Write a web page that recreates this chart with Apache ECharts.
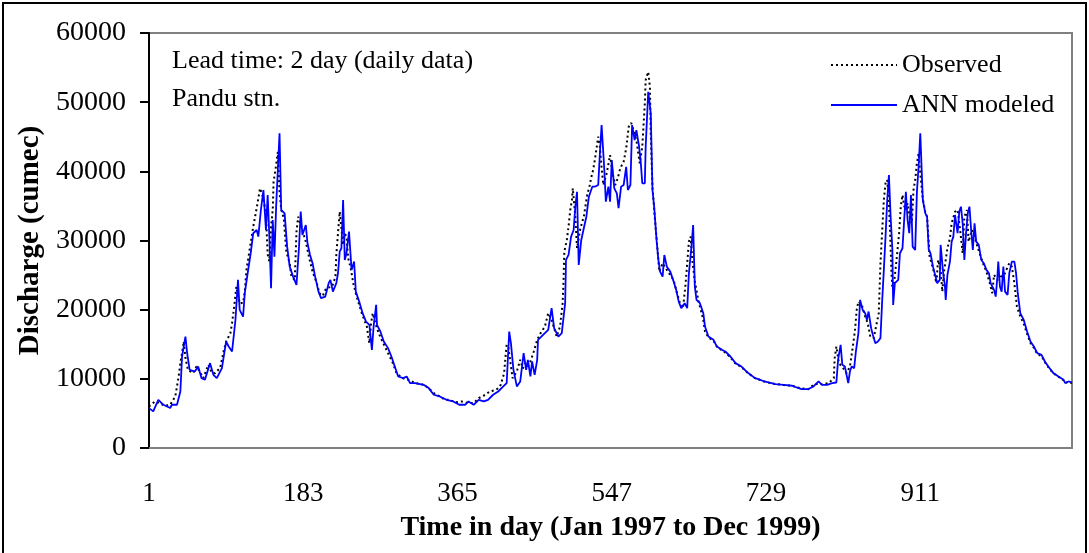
<!DOCTYPE html>
<html>
<head>
<meta charset="utf-8">
<script src="https://cdn.jsdelivr.net/npm/echarts@6/dist/echarts.min.js"></script>
<style>
  html, body { margin: 0; padding: 0; background: #fff; }
  #chart { width: 1089px; height: 553px; }
</style>
</head>
<body>
<div id="chart"></div>
<script>
// X tick labels (days)
const xTicks = [1, 183, 365, 547, 729, 911];
// Y tick labels
const yTicks = [0, 10000, 20000, 30000, 40000, 50000, 60000];

// Observed discharge (cumec): day index and value
const observedDays = [1,8,13,20,26,32,36,38,40,42,44,47,53,57,61,65,71,75,79,85,89,92,97,99,102,104,108,112,114,116,120,124,128,132,134,136,139,141,143,145,147,148,151,153,155,157,160,163,167,169,173,175,177,179,182,186,190,194,199,202,206,210,217,221,222,224,226,228,230,232,234,236,239,242,246,252,258,261,263,265,268,272,278,283,288,293,300,307,315,325,331,337,344,350,356,362,370,378,384,390,398,403,411,416,420,422,423,425,427,430,435,439,442,445,448,451,455,459,464,468,472,476,482,486,489,490,491,494,496,498,500,501,504,506,510,514,518,521,523,525,527,529,531,533,535,537,541,545,548,551,554,557,561,564,567,570,572,576,580,583,586,587,590,592,593,595,598,601,603,607,612,616,620,624,628,631,634,636,638,640,642,645,649,652,655,657,661,667,671,677,681,687,693,700,708,716,727,740,750,760,765,771,779,785,791,795,803,809,810,812,815,820,824,828,832,834,836,838,842,846,849,852,856,860,862,864,866,868,870,872,874,876,877,878,880,883,886,888,890,892,894,896,899,901,903,905,907,909,911,914,917,919,922,926,930,932,935,937,939,943,946,948,952,955,958,961,963,966,968,972,975,979,985,989,993,996,998,1002,1006,1010,1016,1019,1022,1025,1029,1033,1037,1041,1045,1049,1054,1058,1062,1068,1074,1080,1082,1086,1090];
const observedValues = [5990,6730,6500,6100,6250,7450,10340,12270,13720,15400,13000,11300,10820,11800,11000,10100,12030,10900,10820,11600,13950,15390,16600,18040,20940,23300,20900,21000,22620,25750,28880,32010,34650,37540,37540,36100,33690,28000,27000,32000,34410,38500,40900,42800,37000,34500,33200,28400,26700,24800,24300,31280,33440,33440,31500,29830,27500,25500,23830,22380,22000,23100,23330,24780,27910,31050,34170,34170,29360,31000,30560,27430,26000,23830,21890,19490,17560,15160,18050,19490,18050,16600,15000,13720,12500,10830,10100,9860,9390,9140,8660,7940,7450,7000,6970,6600,6730,6500,6500,7210,7700,8170,8420,9140,10830,13720,14920,14500,12750,10100,11060,12750,11500,12270,11800,12510,13950,15640,16840,17500,19490,18530,16110,17560,20940,23830,28390,30080,32000,34410,35860,37540,33440,28880,31770,33440,36580,38000,39220,40190,41630,43320,45000,43550,40500,38020,39710,42350,39710,38020,38990,40430,41390,43320,46450,47000,46930,44520,41150,43550,49820,53180,54380,52210,45490,37780,32970,28640,25500,26710,25750,25000,24300,22380,20690,20200,23580,26710,29830,30560,27190,24060,21410,20000,18530,16840,16000,15500,14670,14100,13800,13100,12200,11700,10800,10100,9600,9250,9100,9000,8800,8600,8500,9140,9300,9200,9390,10100,13000,14670,12270,11550,10830,11780,15160,17080,19970,21170,20690,19000,18050,16110,15880,18280,19490,26710,31280,35860,38270,38750,35380,29110,25270,23330,23830,27190,31050,34890,36580,35000,34410,35380,32970,32490,37300,38750,41150,42600,39710,36000,34000,33440,27670,26000,23830,27190,25750,22610,25500,28880,30320,32490,34170,34410,31520,28160,33440,34410,29830,31520,30560,28880,26710,25500,23830,22380,25030,24300,24780,25030,26710,26220,23830,20450,19000,18000,16500,15200,14500,13600,13300,12400,11700,10800,10300,9800,9400,9550,9400];

// ANN modeled discharge (cumec): day index and value
const modeledDays = [1,6,12,18,26,28,34,38,40,44,46,49,55,59,63,67,73,77,81,87,92,95,99,103,106,108,112,114,118,121,124,128,130,133,136,139,141,143,145,147,149,151,153,155,157,161,164,167,171,175,178,180,182,186,188,191,194,197,201,204,209,213,215,218,222,224,226,228,230,232,234,237,240,243,245,249,253,257,261,264,266,269,270,274,278,283,287,291,295,301,305,309,315,325,331,337,344,352,360,367,374,378,384,390,396,401,407,413,419,423,426,428,431,435,439,443,446,448,451,453,456,459,460,466,472,476,479,484,488,492,493,496,499,502,504,506,508,511,514,517,520,524,527,531,533,535,538,540,543,545,547,550,553,555,558,561,564,566,569,571,574,576,579,581,583,586,587,590,591,593,595,597,600,602,604,607,609,612,616,620,623,626,629,633,636,638,641,643,645,647,651,655,657,661,667,671,677,681,687,693,700,708,716,720,727,740,750,760,765,771,779,785,791,795,801,807,812,814,817,819,822,824,826,828,830,833,835,838,840,843,846,848,850,853,855,858,861,864,866,868,870,872,874,876,878,879,881,885,887,890,892,894,896,898,900,902,905,907,909,911,914,917,919,921,923,926,929,931,934,935,938,940,941,943,946,948,950,952,955,957,959,961,963,965,967,969,971,973,975,977,980,983,986,989,992,994,998,1000,1002,1003,1005,1007,1009,1011,1014,1016,1019,1022,1024,1026,1029,1033,1037,1041,1045,1049,1054,1058,1062,1068,1074,1080,1082,1086,1090];
const modeledValues = [5760,5290,6970,6250,5780,6250,6250,8170,13230,16110,13720,11300,11060,11780,10100,9860,12270,10580,10100,11550,15390,14670,13950,18530,24300,19970,19000,22380,25750,28160,31050,31520,30560,34410,37300,31520,36580,30560,23100,32970,27670,34890,40190,45490,34410,33930,29110,26220,24780,23580,29110,34170,30800,32240,29600,27910,26710,24780,22610,21660,21890,23830,24300,22610,23830,25270,28390,28880,35860,27190,28160,31280,25750,26950,22610,21170,19490,18280,17800,14190,17560,20690,17800,16840,15390,14440,13230,11780,10340,10100,10340,9390,9390,9140,8660,7700,7450,6970,6730,6250,6250,6730,6250,6970,6730,6970,7700,8170,8900,9390,16840,15160,11300,8900,9620,13720,11300,12750,10340,12510,10580,12750,15640,16360,17080,20220,17330,16110,16600,20940,27190,27910,30560,31520,34890,37050,26470,30080,31770,33440,36330,37780,37780,38020,42600,46690,40660,35610,37780,35610,41630,37540,36820,34660,37780,38020,40660,37300,38020,46690,44520,45960,43800,41630,38270,38270,43550,51490,50540,48370,37300,34890,29830,27190,25500,24780,27910,26220,25500,24060,22860,21170,20220,20940,20220,25270,29110,32240,23330,21410,20940,19490,17560,16110,15640,14670,14190,13950,13230,12270,11780,10830,10100,9960,9620,9240,9140,9000,8750,8520,8520,8900,9620,9140,9140,9390,9470,12750,14920,12030,11780,10580,9390,11060,11780,11550,13950,16600,21410,19970,19490,18530,19730,17330,16360,15160,15390,15880,21170,25750,30560,35860,39460,33440,28880,20690,23830,24300,28160,28880,32970,37050,32970,31050,36580,29110,28640,37000,40660,45490,35860,33930,33440,28640,28160,26220,24780,23830,24300,29360,25270,23580,21410,25030,26950,29830,30560,33690,31050,34170,34890,32490,27190,31050,33930,34890,31520,28640,32490,29830,29360,27190,26710,25750,25270,23830,22860,21890,24780,26950,23330,22610,26220,22610,22130,25270,26950,26950,25270,22380,19490,18530,16840,15390,14670,13720,13470,12510,11780,10830,10340,9860,9390,9620,9470];

const observedData = observedDays.map((d, i) => [d, observedValues[i]]);
const modeledData = modeledDays.map((d, i) => [d, modeledValues[i]]);

const FONT = '"Liberation Serif", "Times New Roman", serif';

const chart = echarts.init(document.getElementById('chart'), null, { renderer: 'canvas' });
chart.setOption({
  animation: false,
  backgroundColor: '#ffffff',
  grid: {
    left: 149, top: 33, right: 17, bottom: 105,
    show: true, borderColor: '#808080', borderWidth: 2, backgroundColor: 'transparent'
  },
  xAxis: {
    type: 'value',
    min: xTicks[0], max: 1090, interval: xTicks[1] - xTicks[0],
    name: 'Time in day (Jan 1997 to Dec 1999)',
    nameLocation: 'middle', nameGap: 66,
    nameTextStyle: { fontFamily: FONT, fontSize: 28, fontWeight: 'bold', color: '#000' },
    axisLine: { show: true, lineStyle: { color: '#808080', width: 2 } },
    axisTick: { show: false },
    splitLine: { show: false },
    axisLabel: {
      margin: 32, fontFamily: FONT, fontSize: 27, color: '#000',
      formatter: v => (xTicks.indexOf(v) >= 0 ? String(v) : '')
    }
  },
  yAxis: {
    type: 'value',
    min: yTicks[0], max: yTicks[yTicks.length - 1], interval: yTicks[1] - yTicks[0],
    name: 'Discharge (cumec)',
    nameLocation: 'middle', nameGap: 89,
    nameTextStyle: { fontFamily: FONT, fontSize: 29, fontWeight: 'bold', color: '#000' },
    axisLine: { show: true, lineStyle: { color: '#000', width: 2 } },
    axisTick: { show: true, inside: false, length: 9, lineStyle: { color: '#000', width: 2 } },
    splitLine: { show: false },
    axisLabel: {
      margin: 23, fontFamily: FONT, fontSize: 28, color: '#000',
      formatter: v => String(v)
    }
  },
  legend: {
    orient: 'vertical', left: 825, top: 47,
    itemWidth: 66, itemHeight: 20, itemGap: 14,
    itemStyle: { opacity: 0 },
    textStyle: { fontFamily: FONT, fontSize: 26, color: '#000' },
    data: ['Observed', 'ANN modeled']
  },
  graphic: [
    { type: 'rect', silent: true, z: 100,
      shape: { x: 3, y: 3, width: 1083, height: 600 },
      style: { fill: 'none', stroke: '#000', lineWidth: 2 } },
    { type: 'text', left: 172, top: 48, z: 100,
      style: { text: 'Lead time: 2 day (daily data)', font: '26px ' + FONT, fill: '#000' } },
    { type: 'text', left: 172, top: 86, z: 100,
      style: { text: 'Pandu stn.', font: '26px ' + FONT, fill: '#000' } }
  ],
  series: [
    {
      name: 'Observed', type: 'line', data: observedData,
      symbol: 'none', showSymbol: false, z: 2,
      lineStyle: { color: '#000000', width: 2, type: [2, 3] },
      itemStyle: { color: '#000000' }
    },
    {
      name: 'ANN modeled', type: 'line', data: modeledData,
      symbol: 'none', showSymbol: false, z: 3,
      lineStyle: { color: '#0000FF', width: 1.8 },
      itemStyle: { color: '#0000FF' }
    }
  ]
});
</script>
</body>
</html>
